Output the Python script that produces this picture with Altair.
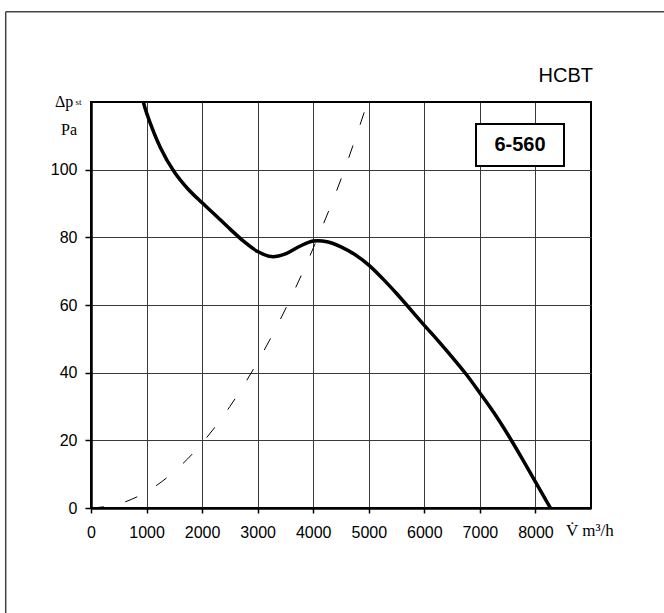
import altair as alt
import pandas as pd

# Fan characteristic curve (HCBT 6-560)
fan_flow = [942, 1000, 1250, 1500, 1750, 2000, 2250, 2500, 2750, 3000, 3250,
            3500, 3750, 4000, 4250, 4500, 4750, 5000, 5250, 5500, 6000, 6250,
            6500, 6750, 7000, 7250, 7500, 7750, 8000, 8270]
fan_pressure = [120, 116.8, 106.5, 99.3, 94.2, 90.2, 86.4, 82.5, 78.8, 75.8, 74.3,
                75.1, 77.3, 78.9, 78.7, 77.2, 74.9, 71.8, 67.8, 63.4, 54.0, 49.4,
                44.6, 39.6, 34.0, 28.2, 21.8, 14.9, 7.7, 0]

# System curve (dashed)
sys_flow = [0, 500, 1000, 1500, 2000, 2500, 3000, 3500, 4000, 4500, 4980]
sys_pressure = [0, 1.2, 4.8, 10.8, 19.2, 30, 43.2, 58.8, 76.8, 97.2, 120]

x_ticks = [0, 1000, 2000, 3000, 4000, 5000, 6000, 7000, 8000]
y_ticks = [0, 20, 40, 60, 80, 100]

fan_df = pd.DataFrame({"flow": fan_flow, "pressure": fan_pressure})
sys_df = pd.DataFrame({"flow": sys_flow, "pressure": sys_pressure})

W, H = 500, 406
LABEL_FONT = "Liberation Sans"
SERIF = "Liberation Serif"

xs = alt.Scale(domain=[0, 9000], nice=False, zero=False)
ys = alt.Scale(domain=[0, 120], nice=False, zero=False)

x_axis = alt.Axis(values=x_ticks, format="d", grid=True, gridColor="#3a3a3a", gridWidth=1,
                  labelFont=LABEL_FONT, labelFontSize=16, labelColor="black",
                  labelPadding=11, tickSize=5, tickColor="black", tickWidth=1.5,
                  domainColor="black", domainWidth=2.5, title=None,
                  labelFlush=False, labelOverlap=False)
y_axis = alt.Axis(values=y_ticks, format="d", grid=True, gridColor="#3a3a3a", gridWidth=1,
                  labelFont=LABEL_FONT, labelFontSize=16, labelColor="black",
                  labelPadding=8, tickSize=6, tickColor="black", tickWidth=1.5,
                  domainColor="black", domainWidth=2.5, title=None,
                  labelFlush=False, labelOverlap=False)

fan = alt.Chart(fan_df).mark_line(
    color="black", strokeWidth=3.5, interpolate="catmull-rom", clip=True
).encode(
    x=alt.X("flow:Q", scale=xs, axis=x_axis),
    y=alt.Y("pressure:Q", scale=ys, axis=y_axis),
)

system = alt.Chart(sys_df).mark_line(
    color="black", strokeWidth=1, strokeDash=[13, 22], interpolate="monotone", clip=True
).encode(
    x=alt.X("flow:Q", scale=xs),
    y=alt.Y("pressure:Q", scale=ys),
)

# Annotations (pixel positions relative to the plot area)
box = alt.Chart(pd.DataFrame({"a": [0]})).mark_rect(
    fill="white", stroke="black", strokeWidth=2
).encode(x=alt.value(385), x2=alt.value(473), y=alt.value(22), y2=alt.value(64))

model = alt.Chart(pd.DataFrame({"t": ["6-560"]})).mark_text(
    font=LABEL_FONT, fontSize=20, fontWeight="bold", color="black",
    align="center", baseline="middle"
).encode(text="t:N", x=alt.value(429), y=alt.value(43))

hcbt = alt.Chart(pd.DataFrame({"t": ["HCBT"]})).mark_text(
    font=LABEL_FONT, fontSize=20, color="black",
    align="right", baseline="alphabetic"
).encode(text="t:N", x=alt.value(502), y=alt.value(-20))

dp = alt.Chart(pd.DataFrame({"t": ["Δp"]})).mark_text(
    font=SERIF, fontSize=16, color="black", align="left", baseline="alphabetic"
).encode(text="t:N", x=alt.value(-36), y=alt.value(4.5))

st = alt.Chart(pd.DataFrame({"t": ["st"]})).mark_text(
    font=SERIF, fontSize=9, color="black", align="left", baseline="alphabetic"
).encode(text="t:N", x=alt.value(-15.5), y=alt.value(3))

pa = alt.Chart(pd.DataFrame({"t": ["Pa"]})).mark_text(
    font=SERIF, fontSize=16, color="black", align="left", baseline="alphabetic"
).encode(text="t:N", x=alt.value(-30), y=alt.value(32.5))

vunit = alt.Chart(pd.DataFrame({"t": ["V̇ m³/h"]})).mark_text(
    font=SERIF, fontSize=17, color="black", align="left", baseline="alphabetic"
).encode(text="t:N", x=alt.value(475), y=alt.value(434))

frame_top = alt.Chart(pd.DataFrame({"a": [0]})).mark_rule(
    color="#444", strokeWidth=1.5
).encode(x=alt.value(-85.3), x2=alt.value(573), y=alt.value(-90.3))

frame_left = alt.Chart(pd.DataFrame({"a": [0]})).mark_rule(
    color="#444", strokeWidth=1.5
).encode(x=alt.value(-85.3), y=alt.value(-90.3), y2=alt.value(511))

chart = alt.layer(
    fan, system, box, model, hcbt, dp, st, pa, vunit, frame_top, frame_left
).properties(
    width=W, height=H,
    autosize=alt.AutoSizeParams(type="none"),
    padding={"left": 91, "top": 102, "right": 73, "bottom": 105},
    background="white",
).configure_view(
    stroke="black", strokeWidth=2
)

chart.save("out.html", embed_options={"renderer": "svg", "actions": False})
